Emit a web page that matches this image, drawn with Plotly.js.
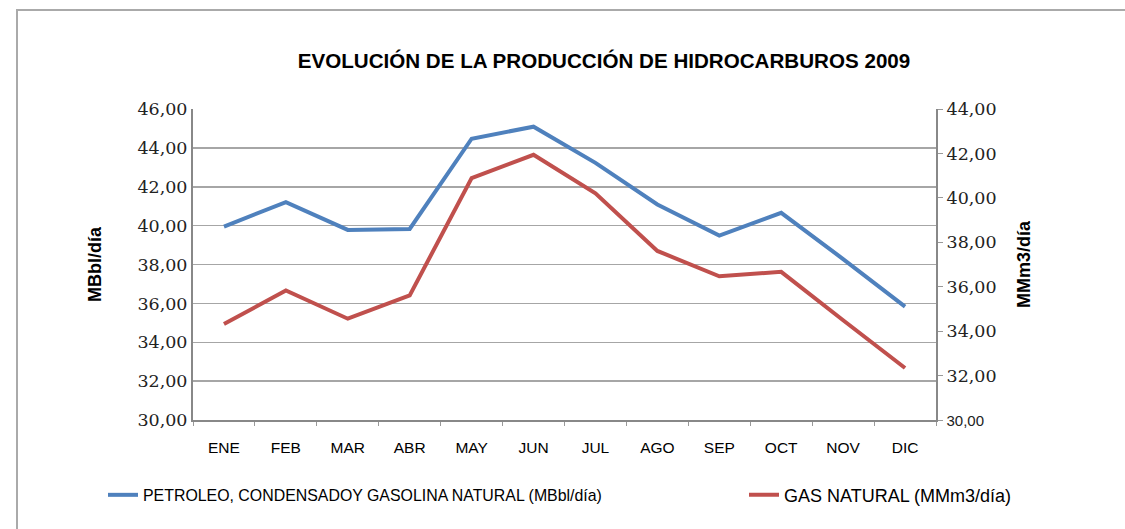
<!DOCTYPE html>
<html>
<head>
<meta charset="utf-8">
<script src="https://cdn.plot.ly/plotly-3.0.1.min.js"></script>
<style>
html,body{margin:0;padding:0;background:#fff;}
#chart{width:1125px;height:529px;}
</style>
</head>
<body>
<div id="chart"></div>
<script>
const months = ['ENE','FEB','MAR','ABR','MAY','JUN','JUL','AGO','SEP','OCT','NOV','DIC'];
const petroleo = [39.95, 41.21, 39.78, 39.83, 44.47, 45.09, 43.23, 41.09, 39.49, 40.66, 38.28, 35.83];
const gasNatural = [34.32, 35.83, 34.56, 35.61, 40.89, 41.94, 40.20, 37.61, 36.47, 36.67, 34.49, 32.34];
const leftTickVals = [30, 32, 34, 36, 38, 40, 42, 44, 46];
const leftTickText = ['30,00','32,00','34,00','36,00','38,00','40,00','42,00','44,00','46,00'];
const rightTickVals = [30, 32, 34, 36, 38, 40, 42, 44];
const rightTickText = ['30,00','32,00','34,00','36,00','38,00','40,00','42,00','44,00'];
const seriesNames = ['PETROLEO, CONDENSADOY GASOLINA NATURAL (MBbl/día)', 'GAS NATURAL (MMm3/día)'];

// the bottom right-axis label is drawn in a sans face, the rest in a serif face
const rightLabels = rightTickText.map((t, i) => i === 0
  ? '<span style="font-family:Liberation Sans, Arial;font-size:15px">' + t + '</span>' : t);

const traces = [
  {x: months, y: petroleo, name: seriesNames[0], type: 'scatter', mode: 'lines',
   line: {color: '#4F81BD', width: 4}, yaxis: 'y', legend: 'legend'},
  {x: months, y: gasNatural, name: seriesNames[1], type: 'scatter', mode: 'lines',
   line: {color: '#C0504D', width: 4}, yaxis: 'y2', legend: 'legend2'}
];

const serif = 'DejaVu Serif, Liberation Serif, serif';
const sans = 'Liberation Sans, Arial, sans-serif';

const layout = {
  width: 1125, height: 529,
  margin: {l: 193, r: 189, t: 109, b: 109, pad: 0},
  paper_bgcolor: '#ffffff', plot_bgcolor: '#ffffff',
  showlegend: true,
  title: {text: '<b>EVOLUCIÓN DE LA PRODUCCIÓN DE HIDROCARBUROS 2009</b>',
          font: {family: sans, size: 20.6, color: '#000'},
          xref: 'container', x: 604/1125, xanchor: 'center',
          yref: 'container', y: 1 - 61/529, yanchor: 'middle'},
  xaxis: {type: 'category', tickson: 'boundaries', ticks: 'outside', ticklen: 4, tickcolor: '#999',
          showline: true, linecolor: '#888', linewidth: 2, showgrid: false, zeroline: false,
          tickfont: {family: sans, size: 15.5, color: '#000'}, ticklabelstandoff: 12,
          range: [-0.5, 11.5], fixedrange: true},
  yaxis: {range: [30, 46], tickvals: leftTickVals, ticktext: leftTickText, ticks: '',
          showline: true, linecolor: '#888', linewidth: 2,
          showgrid: true, gridcolor: '#a6a6a6', gridwidth: 1.5, zeroline: false,
          tickfont: {family: serif, size: 17.5, color: '#222'},
          title: {text: '<b>MBbl/día</b>', font: {family: sans, size: 18, color: '#000'}, standoff: 31}},
  yaxis2: {range: [30, 44], tickvals: rightTickVals, ticktext: rightLabels, overlaying: 'y', side: 'right',
           ticks: 'outside', ticklen: 5, tickcolor: '#999',
           showline: true, linecolor: '#888', linewidth: 2, showgrid: false, zeroline: false,
           tickfont: {family: serif, size: 17.5, color: '#222'},
           title: {text: '<b>MMm3/día</b>', font: {family: sans, size: 18, color: '#000'}, standoff: 22}},
  legend: {orientation: 'h', xref: 'container', yref: 'container', x: 103/1125, xanchor: 'left',
           y: 1 - 495/529, yanchor: 'middle', font: {family: sans, size: 15.9, color: '#000'}, bgcolor: 'rgba(0,0,0,0)'},
  legend2: {orientation: 'h', xref: 'container', yref: 'container', x: 744/1125, xanchor: 'left',
           y: 1 - 495/529, yanchor: 'middle', font: {family: sans, size: 18, color: '#000'}, bgcolor: 'rgba(0,0,0,0)'},
  shapes: [
    {type: 'rect', xref: 'paper', yref: 'paper', x0: (17-193)/743, x1: 2, y0: -1, y1: (420-10)/311,
     line: {color: '#aaaaaa', width: 2}, fillcolor: 'rgba(0,0,0,0)', layer: 'below'}
  ]
};

Plotly.newPlot('chart', traces, layout, {displayModeBar: false, staticPlot: true});
</script>
</body>
</html>
